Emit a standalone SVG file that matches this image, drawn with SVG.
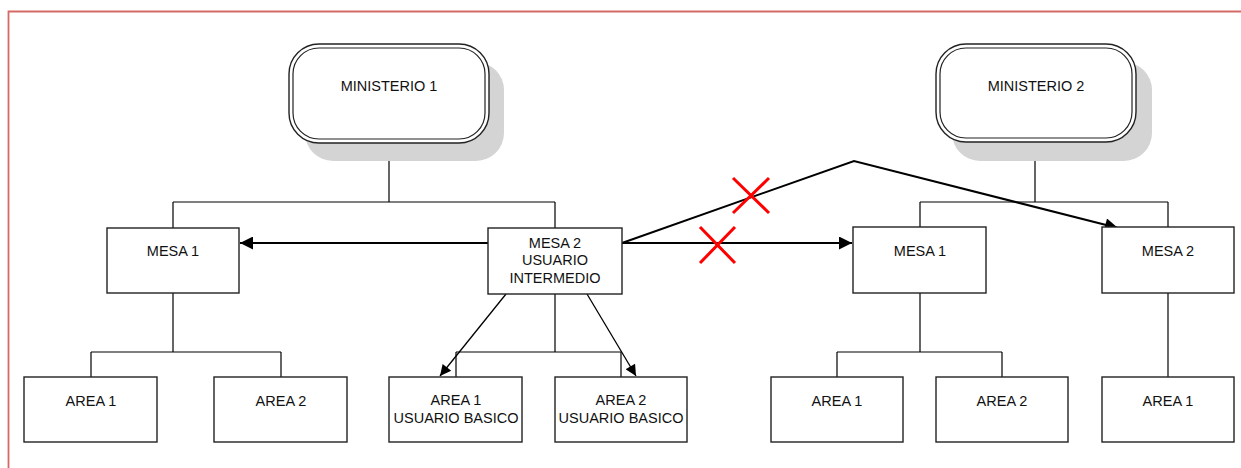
<svg xmlns="http://www.w3.org/2000/svg" width="1241" height="468" viewBox="0 0 1241 468">
<defs>
<style>
.box{fill:#fff;stroke:#222;stroke-width:1.4}
.t{font-family:"Liberation Sans",Arial,sans-serif;font-size:14.5px;fill:#111;text-anchor:middle}
.ln{fill:none;stroke:#000;stroke-width:1.2}
.ar{fill:none;stroke:#000;stroke-width:2}
.ar2{fill:none;stroke:#000;stroke-width:1.3}
.x{stroke:#ff0000;stroke-width:3;fill:none}
.sh{fill:#d4d4d4}
</style>
<marker id="ah" viewBox="0 0 10 10" refX="10" refY="5" markerWidth="9" markerHeight="6.5" markerUnits="strokeWidth" orient="auto">
<path d="M0,0 L10,5 L0,10 Z" fill="#000"/>
</marker>
<marker id="ah2" viewBox="0 0 10 10" refX="10" refY="5" markerWidth="12" markerHeight="8.5" markerUnits="strokeWidth" orient="auto">
<path d="M0,0 L10,5 L0,10 Z" fill="#000"/>
</marker>
</defs>
<rect x="0" y="0" width="1241" height="468" fill="#fff"/>
<path d="M8.5,468 V11.5 H1241" fill="none" stroke="#d46a64" stroke-width="1.8"/>

<g id="connectors">
<path class="ln" d="M389,143 V202 M173,202 H555 M173,202 V228 M555,202 V228"/>
<path class="ln" d="M1035,143 V202 M920,202 H1168 M920,202 V227 M1168,202 V227"/>
<path class="ln" d="M173,293 V352 M91,352 H281 M91,352 V377 M281,352 V377"/>
<path class="ln" d="M555,294 V352 M456,352 H621 M456,352 V377 M621,352 V377"/>
<path class="ln" d="M920,293 V352 M837,352 H1002 M837,352 V377 M1002,352 V377"/>
<path class="ln" d="M1168,293 V377"/>
<path class="ar" d="M488,243 H240" marker-end="url(#ah)"/>
<path class="ar" d="M622,243 H852" marker-end="url(#ah)"/>
<path class="ar" d="M622,243 L854,161 L1118,228" marker-end="url(#ah)"/>
<path class="ar2" d="M506,294 L440,376" marker-end="url(#ah2)"/>
<path class="ar2" d="M587,294 L636,376" marker-end="url(#ah2)"/>
<path class="x" d="M700,227 L735,263 M735,227 L700,263"/>
<path class="x" d="M733,178 L769,213 M769,178 L733,213"/>
</g>

<g id="ministerio1">
<rect class="sh" x="305" y="62" width="199" height="99" rx="28"/>
<rect class="box" x="289" y="44" width="200" height="99" rx="30"/>
<rect fill="none" stroke="#222" stroke-width="1.2" x="293" y="48" width="192" height="91" rx="26"/>
<text class="t" x="389" y="91">MINISTERIO 1</text>
</g>
<g id="ministerio2">
<rect class="sh" x="952" y="62" width="200" height="99" rx="28"/>
<rect class="box" x="936" y="44" width="200" height="98" rx="30"/>
<rect fill="none" stroke="#222" stroke-width="1.2" x="940" y="48" width="192" height="90" rx="26"/>
<text class="t" x="1036" y="91">MINISTERIO 2</text>
</g>

<g id="m1-mesa1">
<rect class="box" x="107" y="228" width="132" height="65"/>
<text class="t" x="173" y="256">MESA 1</text>
</g>
<g id="m1-mesa2">
<rect class="box" x="488" y="228" width="134" height="66"/>
<text class="t" x="555" y="248">MESA 2</text>
<text class="t" x="555" y="265">USUARIO</text>
<text class="t" x="555" y="283">INTERMEDIO</text>
</g>
<g id="m2-mesa1">
<rect class="box" x="853" y="227" width="133" height="66"/>
<text class="t" x="920" y="256">MESA 1</text>
</g>
<g id="m2-mesa2">
<rect class="box" x="1102" y="227" width="132" height="66"/>
<text class="t" x="1168" y="256">MESA 2</text>
</g>

<g id="m1-area1">
<rect class="box" x="24" y="377" width="133" height="65"/>
<text class="t" x="91" y="406">AREA 1</text>
</g>
<g id="m1-area2">
<rect class="box" x="214" y="377" width="133" height="65"/>
<text class="t" x="281" y="406">AREA 2</text>
</g>
<g id="m1-area1-ub">
<rect class="box" x="389" y="377" width="133" height="65"/>
<text class="t" x="456" y="405">AREA 1</text>
<text class="t" x="456" y="423">USUARIO BASICO</text>
</g>
<g id="m1-area2-ub">
<rect class="box" x="555" y="377" width="132" height="65"/>
<text class="t" x="621" y="405">AREA 2</text>
<text class="t" x="621" y="423">USUARIO BASICO</text>
</g>
<g id="m2-area1">
<rect class="box" x="771" y="377" width="132" height="65"/>
<text class="t" x="837" y="406">AREA 1</text>
</g>
<g id="m2-area2">
<rect class="box" x="936" y="377" width="132" height="65"/>
<text class="t" x="1002" y="406">AREA 2</text>
</g>
<g id="m2-m2-area1">
<rect class="box" x="1102" y="377" width="132" height="65"/>
<text class="t" x="1168" y="406">AREA 1</text>
</g>
</svg>
